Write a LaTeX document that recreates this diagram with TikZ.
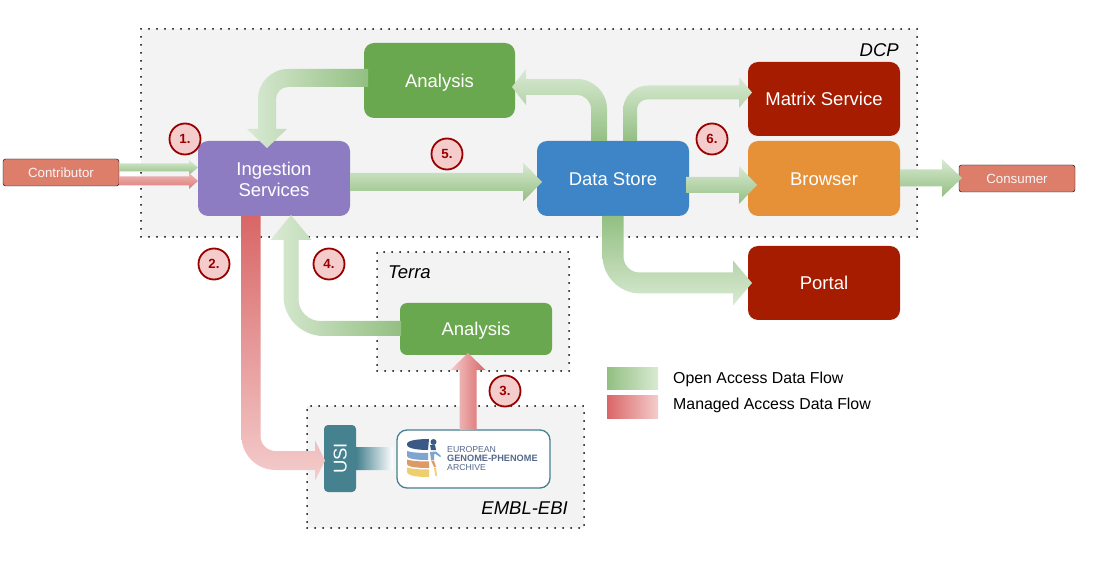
\documentclass[tikz,border=0pt]{standalone}
\usepackage{fontspec}
\setmainfont{Liberation Sans}
\usetikzlibrary{calc}

\definecolor{regiongray}{HTML}{F3F3F3}
\definecolor{ingestpurple}{HTML}{8E7CC3}
\definecolor{analysisgreen}{HTML}{6AA84F}
\definecolor{storeblue}{HTML}{3D85C6}
\definecolor{dcpred}{HTML}{A61C00}
\definecolor{browserorange}{HTML}{E69138}
\definecolor{actorred}{HTML}{DD7E6B}
\definecolor{usiteal}{HTML}{45818E}
\definecolor{badgered}{HTML}{990000}
\definecolor{badgepink}{HTML}{F4CCCC}
\definecolor{openlight}{HTML}{D9EAD3}
\definecolor{opendark}{HTML}{93BF82}
\definecolor{closedlight}{HTML}{F4CCCC}
\definecolor{closeddark}{HTML}{D96666}
\definecolor{egatext}{HTML}{56698C}
\definecolor{egadark}{HTML}{3A5A85}
\definecolor{egablue}{HTML}{7DA5CF}
\definecolor{egaorange}{HTML}{DE9A66}
\definecolor{egayellow}{HTML}{EFCE6F}

\tikzset{
    region/.style={draw=black, fill=regiongray, line width=2pt, line cap=round,
        dash pattern=on 0pt off 8pt, minimum width=#1, inner sep=0pt, outer sep=0pt},
    service/.style={rounded corners=10pt, text=white, align=center, inner sep=0pt, outer sep=0pt,
        minimum width=152pt, minimum height=75pt, font=\fontsize{18.5}{21}\selectfont},
    oneline/.style={text height=13.3pt, text depth=0pt},
    actor/.style={draw=black, fill=actorred, rounded corners=2.5pt, text=white!92!actorred, inner sep=0pt,
        outer sep=0pt, minimum width=116pt, minimum height=27pt, font=\fontsize{13.3}{16}\selectfont},
    badge/.style={circle, draw=badgered, fill=badgepink, line width=1.8pt, text=badgered, inner sep=0pt,
        minimum size=31pt, font=\fontsize{13.3}{16}\selectfont\bfseries},
    tag/.style={inner sep=0pt, font=\fontsize{18.5}{21}\selectfont\itshape},
    legendtext/.style={anchor=west, inner sep=0pt, text height=11.4pt, text depth=0pt,
        font=\fontsize{15.87}{18}\selectfont},
    egaline/.style={anchor=west, inner sep=0pt, text=egatext, font=\fontsize{8.7}{10}\selectfont},
    opendown/.style={top color=openlight, bottom color=opendark},
    openup/.style={top color=opendark, bottom color=openlight},
    openleft/.style={left color=openlight, right color=opendark},
    closeddown/.style={top color=closeddark, bottom color=closedlight},
    closedup/.style={left color=closedlight, right color=closeddark},
    % straight arrows: half shaft, half head, head length
    rightflow/.style n args={3}{to path={let \p1=(\tikztostart), \p2=(\tikztotarget) in
        (\x1,\y2+#1) -- (\x2-#3,\y2+#1) -- (\x2-#3,\y2+#2) -- (\x2,\y2)
        -- (\x2-#3,\y2-#2) -- (\x2-#3,\y2-#1) -- (\x1,\y2-#1) -- cycle}},
    upflow/.style n args={3}{to path={let \p1=(\tikztostart), \p2=(\tikztotarget) in
        (\x2-#1,\y1) -- (\x2-#1,\y2-#3) -- (\x2-#2,\y2-#3) -- (\x2,\y2)
        -- (\x2+#2,\y2-#3) -- (\x2+#1,\y2-#3) -- (\x2+#1,\y1) -- cycle}},
    % bent arrows: half shaft, half head, head length, outer radius, inner radius
    vhflow/.style n args={5}{to path={let \p1=(\tikztostart), \p2=(\tikztotarget),
        \n1={sign(\x2-\x1)}, \n2={sign(\y2-\y1)} in
        ({\x1-\n1*#1},\y1) [rounded corners=#4] -- ({\x1-\n1*#1},{\y2+\n2*#1}) [sharp corners]
        -- ({\x2-\n1*#3},{\y2+\n2*#1}) -- ({\x2-\n1*#3},{\y2+\n2*#2}) -- (\x2,\y2)
        -- ({\x2-\n1*#3},{\y2-\n2*#2}) -- ({\x2-\n1*#3},{\y2-\n2*#1})
        [rounded corners=#5] -- ({\x1+\n1*#1},{\y2-\n2*#1}) [sharp corners]
        -- ({\x1+\n1*#1},\y1) -- cycle}},
    hvflow/.style n args={5}{to path={let \p1=(\tikztostart), \p2=(\tikztotarget),
        \n1={sign(\x2-\x1)}, \n2={sign(\y2-\y1)} in
        (\x1,{\y1-\n2*#1}) [rounded corners=#4] -- ({\x2+\n1*#1},{\y1-\n2*#1}) [sharp corners]
        -- ({\x2+\n1*#1},{\y2-\n2*#3}) -- ({\x2+\n1*#2},{\y2-\n2*#3}) -- (\x2,\y2)
        -- ({\x2-\n1*#2},{\y2-\n2*#3}) -- ({\x2-\n1*#1},{\y2-\n2*#3})
        [rounded corners=#5] -- ({\x2-\n1*#1},{\y1+\n2*#1}) [sharp corners]
        -- (\x1,{\y1+\n2*#1}) -- cycle}},
}

\begin{document}
\begin{tikzpicture}[x=1pt, y=-1pt]

        \useasboundingbox (0,0) rectangle (1109,561);

        % Regions
        \node[region=776pt, minimum height=208pt] (dcp) at (529,133) {};
        \node[region=192pt, minimum height=119pt] (terra) at (473,311.5) {};
        \node[region=277pt, minimum height=122pt] (embl) at (445.5,467) {};

        \node[tag, anchor=east] (dcptag) at (899,50) {DCP};
        \node[tag, anchor=west] (terratag) at (388,272) {Terra};
        \node[tag, anchor=east] (embltag) at (568,508) {EMBL-EBI};

        % Services
        \node[service, fill=ingestpurple] (ingest) at (274,178.5) {\rule{0pt}{15pt}Ingestion\\Services};
        \node[service, oneline, fill=analysisgreen, minimum width=151pt] (analysistop) at (439.5,80.5) {Analysis};
        \node[service, oneline, fill=storeblue] (store) at (613,178.5) {Data Store};
        \node[service, oneline, fill=dcpred, minimum height=74pt] (matrix) at (824,99) {Matrix Service};
        \node[service, oneline, fill=browserorange] (browser) at (824,178.5) {Browser};
        \node[service, oneline, fill=dcpred, minimum height=74pt] (portal) at (824,283) {Portal};
        \node[service, oneline, fill=analysisgreen, minimum height=52pt, rounded corners=7pt] (analysislow) at (476,329) {Analysis};

        % Contributor and consumer
        \node[actor] (contributor) at (61,172.5) {Contributor};
        \node[actor] (consumer) at (1017,178.5) {Consumer};

        % USI and archive
        \node[service, oneline, fill=usiteal, rotate=90, minimum width=67pt, minimum height=32pt, rounded corners=4pt] (usi) at (340,458.5) {USI};
        \node[draw=usiteal, fill=white, line width=1.3pt, rounded corners=10pt, minimum width=153pt, minimum height=58pt, inner sep=0pt, outer sep=0pt] (ega) at (473.5,459) {};

        % Archive logo
        \fill[egadark] (407,444) .. controls (407,440) and (420,439) .. (429,439) -- (428,450) .. controls (420,450) and (408,449) .. (407,445) -- cycle;
        \fill[egablue] (407,451) .. controls (411,452.5) and (420,453) .. (428,453) -- (428,460) .. controls (420,460) and (408,459.5) .. (407,456) -- cycle;
        \fill[egaorange] (407,459.5) .. controls (411,461) and (420,461.5) .. (429,461.5) -- (429,468) .. controls (420,468) and (408,467.5) .. (407,464) -- cycle;
        \fill[egayellow] (407,467.5) .. controls (411,469) and (420,469.5) .. (429,469.5) -- (429,477) .. controls (420,477) and (408,476.5) .. (407,472) -- cycle;
        \fill[egadark] (433.5,442) circle[radius=3];
        \fill[egadark] (430,445) -- (435,445) -- (436,450) -- (431,450) -- cycle;
        \fill[egablue] (430,452) -- (436,451.5) -- (441,456) -- (440,457) -- (435.5,454) -- (434,454) -- (434,460) -- (431,460) -- cycle;
        \fill[egaorange] (431,460.5) -- (434,461) -- (436,467) -- (434,467) -- cycle;
        \fill[egayellow] (434,468) -- (436,468) -- (437,476) -- (435.5,476) -- cycle;
        \node[egaline] (egaone) at (447,449.5) {EUROPEAN};
        \node[egaline, font=\fontsize{9.2}{10}\selectfont\bfseries] (egatwo) at (447,458.5) {GENOME-PHENOME};
        \node[egaline] (egathree) at (447,467.5) {ARCHIVE};

        % Open access arrows
        \path[opendown, rightflow={4pt}{7.5pt}{9pt}] (contributor.east) to ($(ingest.west)+(0,-11)$);
        \path[opendown, rightflow={9pt}{19.5pt}{19pt}] (ingest.east) to ($(store.west)+(5,3.5)$);
        \path[opendown, rightflow={8pt}{19pt}{18pt}] ($(store.east)+(-3,0)$) to ($(browser.west)+(9,6.5)$);
        \path[opendown, rightflow={8.5pt}{19pt}{20pt}] (browser.east) to ($(consumer.west)+(3,-0.5)$);
        \path[openleft, hvflow={9pt}{20pt}{19pt}{30pt}{12pt}] ($(analysistop.west)+(4,-2.5)$) to ($(ingest.north)+(-7,7)$);
        \path[openleft, hvflow={7.5pt}{20.5pt}{25pt}{40pt}{22pt}] ($(analysislow.west)+(1,-0.5)$) to ($(ingest.south)+(17,-1)$);
        \path[opendown, vhflow={8pt}{18pt}{14pt}{30pt}{14pt}] ($(store.north)+(-14,0)$) to ($(analysistop.east)+(-3,6.5)$);
        \path[opendown, vhflow={7pt}{15.5pt}{13pt}{25pt}{10pt}] ($(store.north)+(17,0)$) to ($(matrix.west)+(4,-6.5)$);
        \path[openup, vhflow={10.5pt}{22.5pt}{19pt}{38pt}{16pt}] (store.south) to ($(portal.west)+(4,0)$);

        % Managed access arrows
        \path[top color=closedlight!80!closeddark, bottom color=closeddark!80!closedlight, rightflow={4.5pt}{8pt}{9pt}] (contributor.east) to ($(ingest.west)+(0,2.5)$);
        \path[closeddown, vhflow={9.5pt}{20pt}{10pt}{34pt}{15pt}] ($(ingest.south)+(-23,0)$) to ($(usi.north)+(1,2)$);
        \path[closedup, upflow={8.5pt}{17.5pt}{17pt}] (ega.north) to ($(analysislow.south)+(-8,-2)$);

        % USI to archive
        \path[left color=usiteal, right color=white, rightflow={11.5pt}{11.5pt}{0pt}] (usi.south) to ($(ega.west)+(-4,-0.5)$);

        % Numbered steps
        \node[badge] (one) at (185,139) {1.};
        \node[badge] (two) at (214,264) {2.};
        \node[badge] (three) at (505,391) {3.};
        \node[badge] (four) at (329,264) {4.};
        \node[badge] (five) at (447,154) {5.};
        \node[badge] (six) at (712,139) {6.};

        % Legend
        \path[left color=opendark, right color=openlight] (607,368) rectangle (658,390);
        \path[left color=closeddark, right color=closedlight] (607,396) rectangle (658,418);
        \node[legendtext] (openkey) at (673,378) {Open Access Data Flow};
        \node[legendtext] (closedkey) at (673,404) {Managed Access Data Flow};

    \end{tikzpicture}
\end{document}
